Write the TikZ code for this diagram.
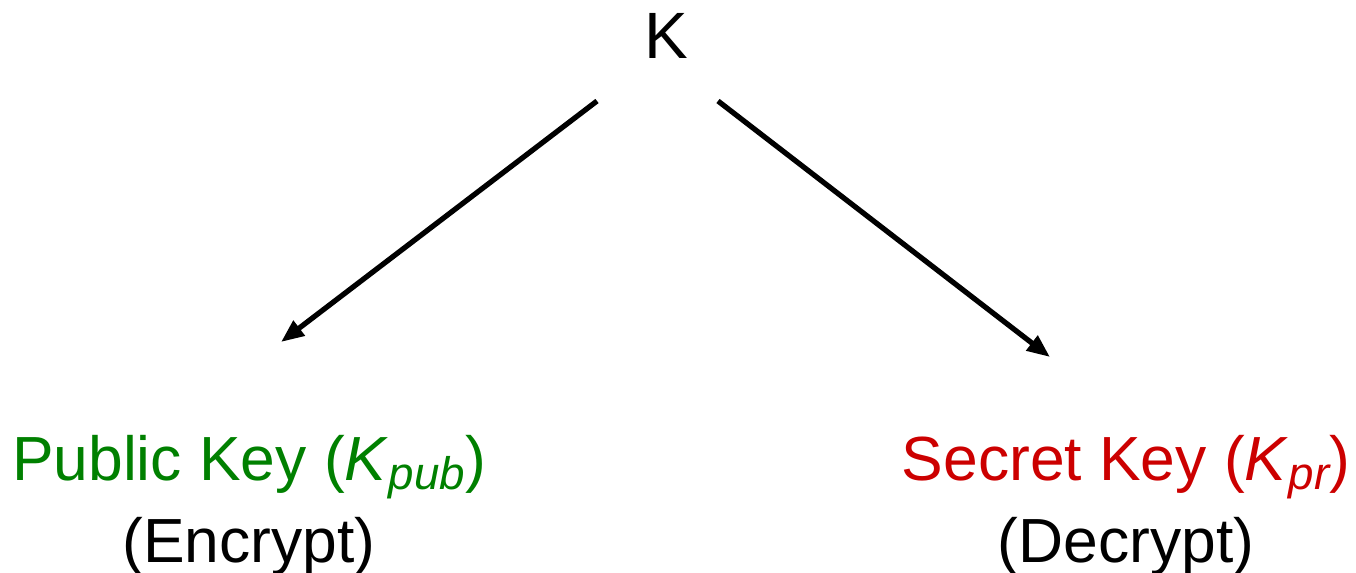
\documentclass[tikz,border=0pt]{standalone}
\usepackage{fontspec}
\setmainfont{Liberation Sans}
\usepackage{tikz}
\usetikzlibrary{positioning,arrows.meta}
\usepackage{xcolor}
\definecolor{pubgreen}{RGB}{0,128,0}
\definecolor{secred}{RGB}{204,0,0}
\newcommand{\ksub}[1]{\raisebox{-5.4pt}{\fontsize{26}{26}\selectfont\itshape #1}}

\begin{document}
\begin{tikzpicture}[
    x=0.02cm, y=-0.02cm,
    every node/.style={font=\fontsize{35.5}{46.5}\selectfont},
    keyNode/.style={anchor=base, align=center, inner sep=0pt},
    splitEdge/.style={draw=black, -{Triangle[length=0.46cm, width=0.36cm]}, line width=3pt}
]
    \useasboundingbox (0,0) rectangle (1356,572);

    \node [keyNode, font=\fontsize{37.3}{45}\selectfont] (master) at (666,58) {K};
    \node [keyNode] (pubKey) at (249,562) {\textcolor{pubgreen}{Public Key (\textit{K}\ksub{pub})}\\(Encrypt)};
    \node [keyNode] (secKey) at (1126,562) {\textcolor{secred}{Secret Key (\textit{K}\ksub{pr})}\\(Decrypt)};

    % arrow ends
    \coordinate (masterL) at (597,101);
    \coordinate (masterR) at (718,101);
    \coordinate (pubTip) at (281,342);
    \coordinate (secTip) at (1050,357);

    \path [splitEdge] (masterL) -- (pubTip);
    \path [splitEdge] (masterR) -- (secTip);
\end{tikzpicture}
\end{document}
